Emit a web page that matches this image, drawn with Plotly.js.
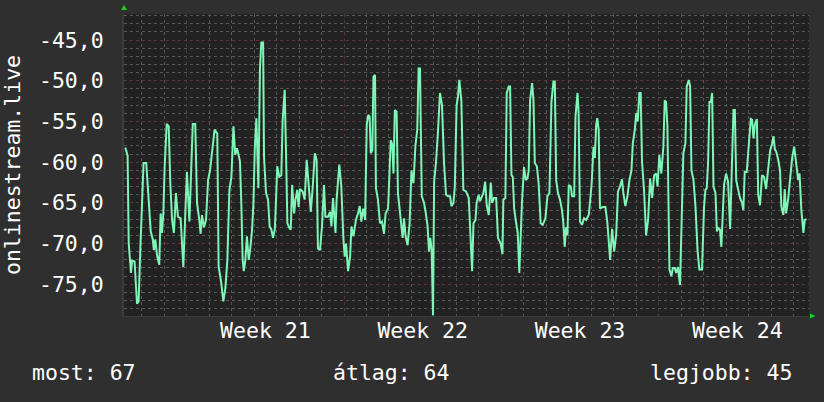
<!DOCTYPE html>
<html>
<head>
<meta charset="utf-8">
<script src="https://cdn.plot.ly/plotly-3.0.1.min.js"></script>
<style>
html,body{margin:0;padding:0;background:#2f2f2f;}
#chart{width:824px;height:402px;}
</style>
</head>
<body>
<div id="chart"></div>
<script>
// time in days since start of Week 21
const days = [
-2.73,-2.63,-2.58,-2.48,-2.43,-2.32,-2.21,-2.14,-2.06,-1.99,-1.92,-1.80,-1.69,-1.60,-1.51,-1.46,-1.40,-1.31,-1.22,-1.16,-1.10,-1.04,-0.98,-0.89,-0.80,-0.73,-0.65,-0.57,-0.48,-0.39,-0.27,-0.15,-0.06,0.01,0.12,0.19,0.27,0.38,0.46,0.56,0.62,0.68,0.77,0.86,0.95,1.04,1.13,1.24,1.36,1.42,1.54,1.63,1.72,1.81,1.90,1.99,2.08,2.16,2.24,
2.37,2.43,2.49,2.54,2.61,2.68,2.76,2.83,2.91,2.97,3.03,3.10,3.14,3.19,3.26,3.32,3.40,3.44,3.53,3.62,3.69,3.77,3.84,3.92,3.97,4.03,4.12,4.21,4.27,4.36,4.42,4.48,4.57,4.63,4.69,4.78,4.84,4.92,4.98,5.04,5.16,5.25,5.34,5.43,5.52,5.61,5.70,5.78,5.84,5.93,6.02,6.11,6.17,6.29,6.38,6.44,6.51,6.62,6.67,6.79,6.88,6.97,7.03,7.09,7.18,7.27,7.33,7.42,
7.53,7.62,7.70,7.77,7.85,7.94,8.01,8.08,8.14,8.19,8.26,8.31,8.38,8.42,8.51,8.60,8.69,8.78,8.85,8.96,9.02,9.08,9.15,9.20,9.26,9.34,9.40,9.49,9.55,9.61,9.67,9.74,9.83,9.92,10.00,10.09,10.18,10.26,10.32,10.38,10.46,10.56,10.64,10.72,10.78,10.84,10.90,10.96,11.01,11.09,11.18,11.27,11.36,11.45,11.54,11.63,11.72,11.78,11.87,11.93,12.01,12.07,12.13,12.22,12.31,12.43,12.55,12.61,
12.70,12.76,12.85,12.90,12.99,13.05,13.14,13.20,13.28,13.35,13.44,13.53,13.59,13.68,13.77,13.85,13.97,14.05,14.09,14.18,14.24,14.33,14.39,14.45,14.51,14.57,14.66,14.73,14.80,14.86,14.92,15.01,15.09,15.16,15.22,15.28,15.37,15.43,15.49,15.58,15.66,15.75,15.84,15.96,16.05,16.14,16.23,16.32,16.38,16.44,16.52,16.61,16.70,16.76,16.82,16.88,16.94,17.00,17.09,17.15,17.24,17.30,17.39,17.44,17.50,17.59,17.68,17.77,
17.89,17.95,18.02,18.10,18.16,18.22,18.27,18.33,18.39,18.51,18.63,18.72,18.78,18.84,18.93,19.02,19.11,19.19,19.28,19.37,19.43,19.52,19.61,19.70,19.79,19.85,19.94,20.00,20.07,20.14,20.20,20.26,20.35,20.44,20.53,20.62,20.71,20.80,20.89,20.95,21.03,21.12,21.21,21.27,21.33,21.39,21.48,21.57,21.63,21.72,21.78,21.86,21.95,22.04,22.10,22.19,22.25,22.34,22.40,22.46,22.55,22.64,22.73,22.81,22.93,
23.02,23.08,23.14,23.20,23.26,23.32,23.38,23.44,23.53,23.59,23.65,23.73,23.79,23.85,23.91,24.00,24.09,24.18,24.27,24.33,24.39,24.45,24.54,24.62,24.71,24.77,24.83,24.92,25.01,25.10,25.16,25.22,25.28,25.37,25.43,25.51,25.60,25.69,25.78,25.87,25.96,26.05,26.11,26.17,26.23,26.32,26.40,26.46,26.55,26.61,26.67,26.76,26.85,26.94,27.03,27.12,27.21,27.27,27.35,27.44,27.50,27.58
];
const signal = [
-58.2,-59.2,-70.0,-73.6,-72.1,-72.2,-77.4,-77.1,-70.4,-65.9,-60.1,-60.1,-64.8,-68.5,-69.5,-70.8,-69.5,-71.6,-72.6,-66.3,-68.7,-66.3,-60.5,-55.3,-55.6,-62.6,-67.1,-68.7,-63.8,-66.7,-66.9,-72.9,-66.1,-61.2,-67.3,-62.0,-55.3,-55.3,-65.0,-67.1,-68.8,-66.5,-68.0,-67.1,-62.2,-61.0,-58.9,-56.0,-56.5,-72.8,-74.9,-77.1,-75.5,-72.0,-63.4,-61.8,-55.6,-59.1,-58.3,
-59.9,-65.0,-72.0,-73.4,-72.0,-69.1,-72.0,-70.6,-68.3,-65.0,-58.3,-54.6,-59.3,-63.2,-48.5,-45.3,-45.3,-59.3,-63.8,-64.6,-67.9,-68.3,-69.3,-68.3,-65.0,-60.5,-61.8,-61.6,-54.8,-51.1,-58.9,-67.5,-68.1,-68.3,-62.8,-66.3,-64.6,-63.4,-65.5,-63.3,-63.6,-64.6,-59.7,-63.0,-66.1,-63.0,-58.9,-59.7,-70.6,-70.8,-67.9,-62.8,-66.7,-66.7,-66.1,-67.9,-64.4,-68.7,-64.6,-60.3,-63.0,-69.3,-71.6,-70.0,-73.4,-71.6,-67.9,-69.1,
-67.1,-66.3,-65.4,-67.3,-65.7,-67.1,-55.4,-54.2,-54.4,-58.9,-58.5,-49.5,-49.3,-63.2,-64.6,-67.5,-67.3,-68.8,-66.3,-65.7,-62.2,-57.3,-57.9,-61.4,-53.6,-53.8,-63.8,-66.5,-67.9,-69.3,-66.9,-69.1,-70.2,-67.5,-61.0,-62.6,-57.9,-56.0,-48.5,-48.5,-64.2,-65.0,-66.3,-67.9,-71.0,-69.3,-70.8,-78.8,-62.4,-60.1,-56.3,-51.5,-53.0,-60.1,-64.0,-64.2,-64.2,-65.4,-65.0,-63.0,-53.0,-52.0,-49.9,-52.4,-63.4,-63.6,-64.4,-67.5,
-73.4,-67.5,-67.1,-65.0,-64.0,-64.8,-64.2,-63.8,-62.4,-65.3,-66.5,-62.5,-65.0,-64.4,-64.4,-69.3,-70.0,-71.3,-64.6,-64.4,-51.5,-50.7,-50.7,-61.6,-61.8,-65.7,-67.5,-68.7,-73.6,-68.7,-64.8,-60.6,-62.2,-62.0,-61.0,-52.4,-50.3,-52.4,-60.1,-60.5,-62.6,-67.5,-67.7,-66.9,-64.2,-63.8,-52.6,-50.1,-50.1,-62.2,-63.8,-64.6,-65.9,-67.5,-70.4,-68.0,-69.0,-62.8,-63.0,-64.2,-64.2,-54.4,-51.5,-54.0,-67.3,-67.7,-66.9,-67.1,
-66.5,-64.8,-62.6,-58.1,-59.5,-55.4,-54.6,-56.0,-65.7,-65.5,-65.5,-67.5,-69.5,-72.0,-68.2,-71.0,-68.9,-63.6,-63.0,-62.1,-63.8,-65.4,-64.2,-62.2,-61.0,-57.7,-56.0,-54.0,-55.0,-51.5,-51.5,-59.9,-63.4,-69.0,-67.1,-62.0,-64.4,-61.6,-61.4,-63.0,-59.1,-61.4,-58.1,-52.4,-52.6,-55.6,-73.2,-74.0,-73.0,-73.0,-73.6,-72.9,-75.1,-63.4,-58.9,-57.7,-50.7,-49.9,-50.7,-61.0,-62.2,-65.5,-70.8,-73.2,-73.2,
-65.5,-63.4,-63.2,-60.1,-52.6,-52.6,-51.5,-63.0,-63.8,-68.5,-68.1,-68.3,-70.4,-66.7,-62.8,-61.4,-62.4,-68.2,-57.7,-53.6,-53.6,-62.2,-63.4,-64.4,-65.0,-65.9,-61.2,-61.2,-57.9,-54.7,-54.8,-57.1,-55.4,-54.7,-64.0,-65.3,-61.6,-61.8,-63.3,-61.0,-58.6,-57.7,-56.8,-58.4,-58.7,-59.7,-61.0,-65.5,-66.5,-63.3,-66.3,-64.6,-61.8,-59.5,-58.1,-60.3,-62.2,-61.4,-65.9,-68.7,-67.1,-67.0
];

const yTicks = [-75, -70, -65, -60, -55, -50, -45];
const yTickLabels = ["-75,0", "-70,0", "-65,0", "-60,0", "-55,0", "-50,0", "-45,0"];
const weekStarts = [0, 7, 14, 21];
const weekCenters = [3.5, 10.5, 17.5, 24.5];
const weekLabels = ["Week 21", "Week 22", "Week 23", "Week 24"];
const yTitle = "onlinestream.live";
const legendTexts = ["most: 67", "átlag: 64", "legjobb: 45"];

const FONT = "DejaVu Sans Mono";
const FS = 21.5;
const xRange = [-2.79, 27.69];
const yRange = [-78.9, -41.8];
const minorGrid = {tickmode: "linear", tick0: 0, dtick: 1, showgrid: true, gridcolor: "#565656", griddash: "dot", gridwidth: 1, ticks: ""};
const majorGridColor = "#5c3636";

const traces = [
  {x: days, y: signal, type: "scatter", mode: "lines", line: {color: "#7ff5b7", width: 2}, hoverinfo: "skip", showlegend: false},
  {x: weekCenters, y: weekCenters.map(() => null), xaxis: "x2", type: "scatter", mode: "lines", showlegend: false, hoverinfo: "skip"}
];

const layout = {
  width: 824, height: 402,
  margin: {l: 124, r: 15, t: 14, b: 86},
  paper_bgcolor: "#2f2f2f",
  plot_bgcolor: "#222222",
  font: {family: FONT, color: "#ffffff", size: FS},
  showlegend: false,
  xaxis: {
    range: xRange, tickmode: "array", tickvals: weekStarts, showticklabels: false,
    showgrid: true, gridcolor: majorGridColor, griddash: "dot", gridwidth: 1,
    zeroline: false, showline: true, linecolor: "#3a3a3a", linewidth: 1, ticks: "",
    minor: minorGrid, fixedrange: true
  },
  xaxis2: {
    overlaying: "x", side: "bottom", range: xRange, tickmode: "array",
    tickvals: weekCenters, ticktext: weekLabels, showgrid: false, zeroline: false,
    ticks: "", ticklabelstandoff: -1,
    tickfont: {family: FONT, size: FS, color: "#ffffff"}, fixedrange: true
  },
  yaxis: {
    range: yRange, tickmode: "array", tickvals: yTicks, ticktext: yTickLabels,
    showgrid: true, gridcolor: majorGridColor, griddash: "dot", gridwidth: 1,
    zeroline: false, showline: true, linecolor: "#3c3c3c", linewidth: 2,
    ticks: "outside", ticklen: 14, tickcolor: "rgba(0,0,0,0)",
    tickfont: {family: FONT, size: FS, color: "#ffffff"},
    title: {text: yTitle, font: {family: FONT, size: FS, color: "#ffffff"}, standoff: 21},
    minor: minorGrid, fixedrange: true
  },
  annotations: [
    {xref: "paper", yref: "paper", x: -0.137, y: -0.188, xanchor: "left", yanchor: "middle", text: legendTexts[0], showarrow: false, font: {family: FONT, size: FS, color: "#ffffff"}},
    {xref: "paper", yref: "paper", x: 0.391, y: -0.188, xanchor: "center", yanchor: "middle", text: legendTexts[1], showarrow: false, font: {family: FONT, size: FS, color: "#ffffff"}},
    {xref: "paper", yref: "paper", x: 0.978, y: -0.188, xanchor: "right", yanchor: "middle", text: legendTexts[2], showarrow: false, font: {family: FONT, size: FS, color: "#ffffff"}}
  ],
  shapes: [
    {type: "path", xref: "paper", yref: "paper", path: "M -0.0044 1.013 L 0.0044 1.013 L 0 1.03 Z", fillcolor: "#19d219", line: {width: 0}},
    {type: "path", xref: "paper", yref: "paper", path: "M 1.0015 0.0083 L 1.0015 -0.0083 L 1.0095 0 Z", fillcolor: "#19d219", line: {width: 0}}
  ]
};

Plotly.newPlot("chart", traces, layout, {displayModeBar: false, staticPlot: true});
</script>
</body>
</html>
